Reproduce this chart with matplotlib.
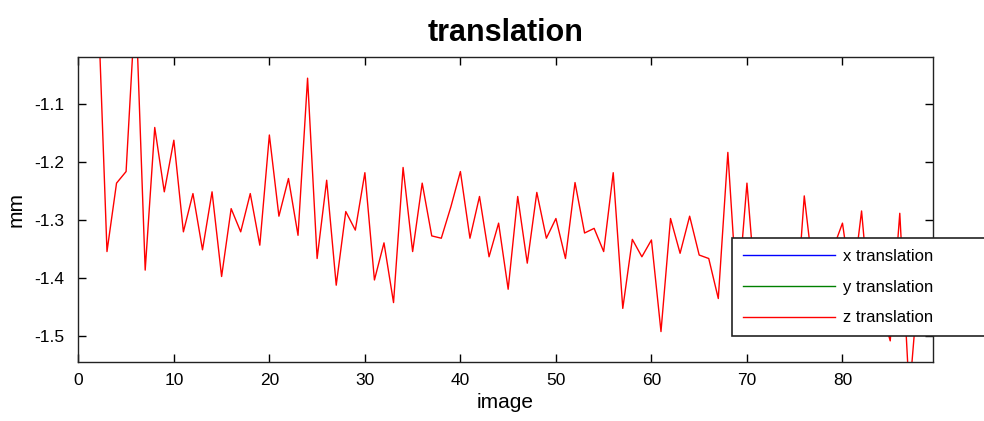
import numpy as np
import matplotlib
matplotlib.use('Agg')
import matplotlib.pyplot as plt
from matplotlib import font_manager

# 数据: 每幅图像的 z 平移 (mm), 图像编号从 1 开始
image_idx = np.arange(1, 89)
z_translation = [
    0.0, -0.895, -1.354, -1.236, -1.216, -0.92, -1.386, -1.140, -1.251, -1.162,
    -1.320, -1.254, -1.351, -1.251, -1.397, -1.280, -1.320, -1.254, -1.343, -1.153,
    -1.293, -1.228, -1.326, -1.055, -1.366, -1.231, -1.412, -1.285, -1.317, -1.218,
    -1.403, -1.339, -1.442, -1.209, -1.354, -1.236, -1.327, -1.331, -1.277, -1.216,
    -1.331, -1.259, -1.363, -1.305, -1.419, -1.259, -1.374, -1.252, -1.331, -1.297,
    -1.366, -1.235, -1.322, -1.314, -1.354, -1.218, -1.452, -1.333, -1.363, -1.334,
    -1.492, -1.297, -1.357, -1.293, -1.360, -1.366, -1.435, -1.183, -1.44, -1.236,
    -1.44, -1.40, -1.45, -1.38, -1.49, -1.258, -1.40, -1.42, -1.35, -1.305,
    -1.42, -1.284, -1.47, -1.45, -1.508, -1.288, -1.60, -1.40,
]
# x / y 平移不在显示范围内, 只出现在图例中
x_translation = []
y_translation = []

series_labels = ['x translation', 'y translation', 'z translation']
series_colors = ['#0000ff', '#008000', '#ff0000']
x_ticks = [0, 10, 20, 30, 40, 50, 60, 70, 80]
y_ticks = [-1.5, -1.4, -1.3, -1.2, -1.1]

# 字体: 窄体更接近原图 (没有就用普通 Liberation Sans)
names = {f.name for f in font_manager.fontManager.ttflist}
if 'Liberation Sans Narrow' in names:
    plt.rcParams['font.family'] = ['Liberation Sans Narrow', 'DejaVu Sans']
    fs_tick, fs_label, fs_title, fs_leg = 13.5, 16.5, 25, 13
else:
    plt.rcParams['font.family'] = ['Liberation Sans', 'DejaVu Sans']
    fs_tick, fs_label, fs_title, fs_leg = 12.5, 15, 22, 12

fig = plt.figure(figsize=(9.84, 4.21), dpi=100)
ax = fig.add_axes([0.0796, 0.1394, 0.8683, 0.7245])

ax.plot(x_translation, x_translation, color=series_colors[0], lw=1.0, label=series_labels[0])
ax.plot(y_translation, y_translation, color=series_colors[1], lw=1.0, label=series_labels[1])
ax.plot(image_idx, z_translation, color=series_colors[2], lw=1.0, label=series_labels[2])

ax.set_xlim(0, 89.45)
ax.set_ylim(-1.545, -1.019)
ax.set_xticks(x_ticks)
ax.set_yticks(y_ticks)
ax.set_yticklabels([f'{v:g}' for v in y_ticks])

ax.tick_params(direction='in', length=5.5, width=1, top=True, right=True,
               labelsize=fs_tick, colors='black')
ax.tick_params(axis='y', pad=10)
ax.tick_params(axis='x', pad=8)
for s in ax.spines.values():
    s.set_linewidth(1.0)
    s.set_color('#222222')

ax.set_title('translation', fontsize=fs_title, fontweight='bold', pad=12)
ax.set_xlabel('image', fontsize=fs_label, labelpad=3)
ax.set_ylabel('mm', fontsize=fs_label, labelpad=6)

# 图例: 白底黑框, 右侧超出画布
leg = ax.legend(loc='upper left', bbox_to_anchor=(0.7442, 0.434, 0.262, 0.0),
                bbox_transform=fig.transFigure, mode='expand', borderaxespad=0,
                fontsize=fs_leg, handlelength=5.5, handletextpad=0.5,
                labelspacing=0.94, borderpad=0.65, fancybox=False,
                framealpha=1, edgecolor='#222222')
leg.get_frame().set_linewidth(1.2)

fig.savefig('out.png', dpi=100, facecolor='white')
